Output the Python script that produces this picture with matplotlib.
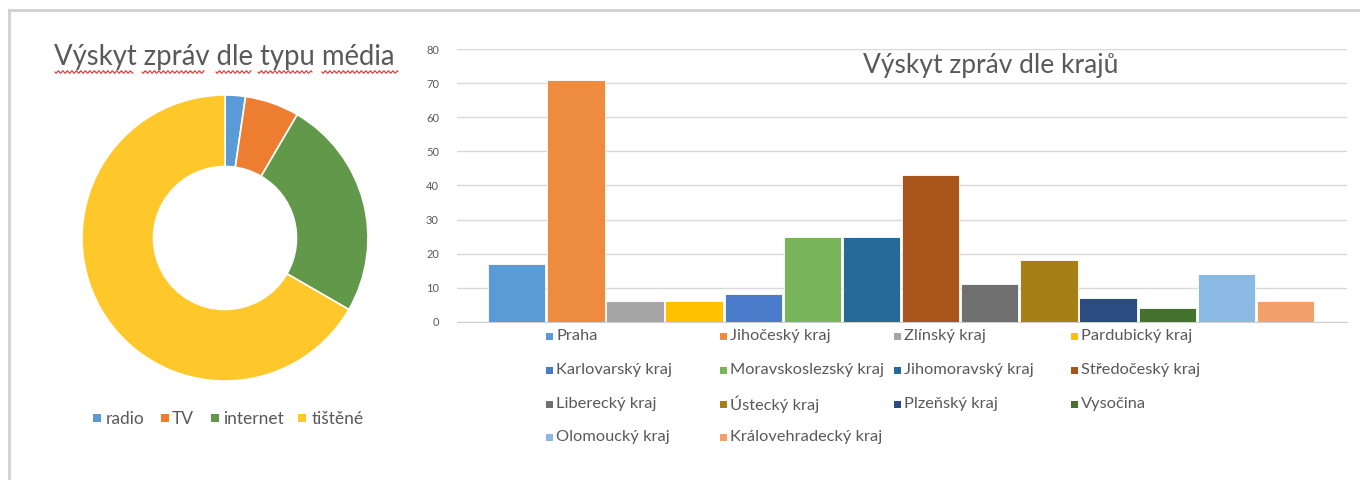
import matplotlib
matplotlib.use("Agg")
import matplotlib.pyplot as plt
from matplotlib.patches import Rectangle
from matplotlib.lines import Line2D
import numpy as np

plt.rcParams['font.family'] = ['Lato', 'DejaVu Sans']

# ---- data ----
media_labels = ["radio", "TV", "internet", "tištěné"]
media_values = [6, 16, 65, 174]
media_colors = ["#5B9BD5", "#ED7D31", "#62984A", "#FFC82A"]

regions = ["Praha", "Jihočeský kraj", "Zlínský kraj", "Pardubický kraj",
           "Karlovarský kraj", "Moravskoslezský kraj", "Jihomoravský kraj", "Středočeský kraj",
           "Liberecký kraj", "Ústecký kraj", "Plzeňský kraj", "Vysočina",
           "Olomoucký kraj", "Královehradecký kraj"]
region_values = [17, 71, 6, 6, 8, 25, 25, 43, 11, 18, 7, 4, 14, 6]
region_colors = ["#5B9BD5", "#ED8B3E", "#A5A5A5", "#FFC000", "#4A7CCB", "#78B55A", "#266A99",
                 "#A9541A", "#707070", "#A67F16", "#2B4C83", "#46722F", "#8AB9E3", "#F4A06A"]
y_ticks = [0, 10, 20, 30, 40, 50, 60, 70, 80]

W, H = 1360, 480
fig = plt.figure(figsize=(W / 100, H / 100), dpi=100)
fig.patch.set_facecolor("white")
TXT = "#595959"

def fx(x): return x / W
def fy(y): return 1 - y / H

# outer frame
fig.add_artist(Line2D([fx(9), fx(9)], [fy(10), 0], color="#D0D0D0", lw=2))
fig.add_artist(Line2D([fx(9), 1], [fy(10), fy(10)], color="#D0D0D0", lw=2))

# ---- donut ----
cx, cy, r = 225, 238, 143
axp = fig.add_axes([fx(cx - r), fy(cy + r), 2 * r / W, 2 * r / H])
axp.pie(media_values, colors=media_colors, startangle=90, counterclock=False,
        radius=1.0, wedgeprops=dict(width=0.5, edgecolor="white", linewidth=1.2))
axp.set_xlim(-1, 1); axp.set_ylim(-1, 1)
axp.set_aspect("equal")
axp.axis("off")

fig.text(fx(54), fy(57), "Výskyt zpráv dle typu média", fontsize=19.8, color=TXT,
         ha="left", va="center")
# spell-check squiggles under title words
for a, b in [(55, 133), (142, 204), (216, 251), (258, 312), (322, 398)]:
    xx = np.linspace(a, b, int((b - a) * 2))
    yy = 72 + 1.2 * np.sin((xx - a) * 2 * np.pi / 4.5)
    fig.add_artist(Line2D(fx(xx), fy(yy), color="#E03030", lw=0.8))

leg_x = [93, 161, 211, 298]
txt_x = [106, 172, 223, 312]
for i, (lab, col) in enumerate(zip(media_labels, media_colors)):
    fig.add_artist(Rectangle((fx(leg_x[i]), fy(422)), 8 / W, 8 / H, color=col, lw=0))
    fig.text(fx(txt_x[i]), fy(419), lab, fontsize=12.5, color=TXT, ha="left", va="center")

# ---- bar chart ----
left, right, bot, top = 457, 1347, 321.7, 49.3
axb = fig.add_axes([fx(left), fy(bot), (right - left) / W, (bot - top) / H])
xs = list(range(len(regions)))
axb.bar(xs, region_values, width=0.97, color=region_colors, edgecolor="white", linewidth=0.6, zorder=3)
axb.set_xlim(-1.01, 14.04)
axb.set_ylim(0, 80)
axb.set_yticks(y_ticks)
axb.set_yticklabels([str(t) for t in y_ticks], fontsize=8, color=TXT)
axb.tick_params(axis="y", length=0, pad=13)
axb.set_xticks([])
axb.grid(axis="y", color="#D9D9D9", lw=1, zorder=0)
for s in ["top", "right", "left"]:
    axb.spines[s].set_visible(False)
axb.spines["bottom"].set_color("#D0D0D0")
axb.set_facecolor("none")

fig.text(fx(991), fy(66), "Výskyt zpráv dle krajů", fontsize=19, color=TXT, ha="center", va="center")

col_x = [546, 720, 894, 1071]
row_y = [336, 370, 404, 437]
for i, (name, col) in enumerate(zip(regions, region_colors)):
    c, rr = i % 4, i // 4
    fig.add_artist(Rectangle((fx(col_x[c]), fy(row_y[rr] + 4)), 7 / W, 7 / H, color=col, lw=0))
    fig.text(fx(col_x[c] + 10), fy(row_y[rr]), name, fontsize=11.8, color=TXT, ha="left", va="center")

fig.savefig("out.png", dpi=100, facecolor="white")
